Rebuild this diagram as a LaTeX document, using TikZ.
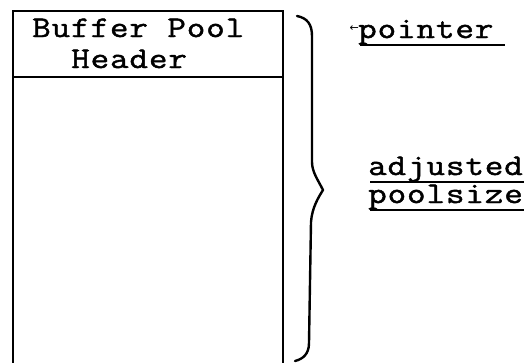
\documentclass[tikz,border=0pt]{standalone}
\usepackage{fontspec}
\newfontfamily\tw[LetterSpace=3,FakeStretch=1.2,FakeBold=1.5]{Latin Modern Mono}
\newfontfamily\arr{DejaVu Sans}
\begin{document}
\begin{tikzpicture}[x=1pt,y=-1pt,
  boxline/.style={line width=1.4pt},
  braceline/.style={line width=2.4pt,line cap=round,line join=round},
  lbl/.style={inner sep=0pt,anchor=base west,font=\tw\fontsize{30}{30}\selectfont},
  ul/.style={line width=1.3pt}]
\useasboundingbox (0,0) rectangle (525,362);
% box
\draw[boxline] (13,365) -- (13,11) -- (283,11) -- (283,365);
\draw[boxline] (13,77) -- (283,77);
\node[lbl] (t1) at (32,37) {Buffer Pool};
\node[lbl] (t2) at (71,68) {Header};
% brace
\draw[braceline] (297,16) .. controls (307,18) and (312,24) .. (312,36)
  -- (312,162) .. controls (312,172) and (318,180) .. (323,190)
  .. controls (318,198) and (312,208) .. (311,222)
  -- (309,343) .. controls (309,354) and (303,359) .. (295,361);
% labels
\node[inner sep=0pt,anchor=base east,font=\arr\fontsize{11}{11}\selectfont] (ar) at (359,31) {←};
\node[lbl] (p) at (358,38) {pointer};
\draw[ul] (360,45) -- (505,45);
\node[lbl] (a) at (368,175) {adjusted};
\draw[ul] (370,182) -- (524,182);
\node[lbl] (ps) at (368,203) {poolsize};
\draw[ul] (370,210) -- (524,210);
\end{tikzpicture}
\end{document}
